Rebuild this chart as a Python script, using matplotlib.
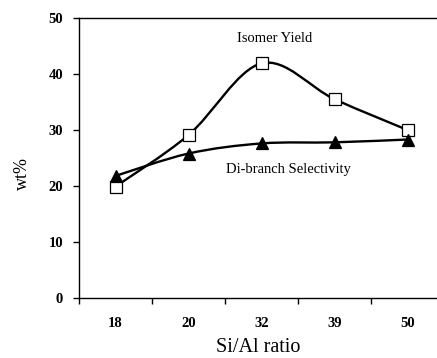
import numpy as np
import matplotlib.pyplot as plt
from matplotlib.path import Path
from matplotlib.patches import PathPatch

ratios = ['18', '20', '32', '39', '50']
isomer_yield = [19.9, 29.1, 41.9, 35.5, 30.0]
dibranch_sel = [21.8, 25.8, 27.6, 27.8, 28.3]

plt.rcParams['font.family'] = ['Liberation Serif', 'DejaVu Serif']


def smooth_path(xs, ys, t=1/6.):
    # excel-like smoothed line: cubic bezier through the points
    pts = np.column_stack([xs, ys]).astype(float)
    n = len(pts)
    verts = [pts[0]]
    codes = [Path.MOVETO]
    for i in range(n - 1):
        p0 = pts[max(i - 1, 0)]
        p1 = pts[i]
        p2 = pts[i + 1]
        p3 = pts[min(i + 2, n - 1)]
        c1 = p1 + (p2 - p0) * t
        c2 = p2 - (p3 - p1) * t
        verts += [c1, c2, p2]
        codes += [Path.CURVE4] * 3
    return Path(verts, codes)


fig = plt.figure(figsize=(4.37, 3.58), dpi=100)
ax = fig.add_axes([79/437, 1 - 298/358, (437 - 79)/437, 280/358])

x = np.arange(len(ratios))
for vals, mk, fc in [(isomer_yield, 's', 'white'), (dibranch_sel, '^', 'black')]:
    ax.add_patch(PathPatch(smooth_path(x, vals), fill=False, lw=1.7, ec='black', zorder=2))
    ax.plot(x, vals, ls='none', marker=mk, ms=9, mfc=fc, mec='black', mew=0.9, zorder=3)

ax.set_xlim(-0.5, 4.404)
ax.set_ylim(0, 50)
ax.set_xticks(x - 0.5, minor=False)
ax.set_xticklabels([])
ax.set_xticks(x, minor=True)
ax.set_xticklabels(ratios, minor=True, fontweight='bold', fontsize=10.5)
ax.tick_params(axis='x', which='minor', length=0, pad=14)
ax.tick_params(axis='x', which='major', length=4.5, width=1, direction='out')
ax.set_yticks([0, 10, 20, 30, 40, 50])
ax.set_yticklabels(['0', '10', '20', '30', '40', '50'], fontweight='bold', fontsize=10.5)
ax.tick_params(axis='y', length=4.5, width=1, direction='out', pad=7)
ax.spines['right'].set_visible(False)
for s in ['left', 'bottom', 'top']:
    ax.spines[s].set_linewidth(1.0)

ax.text(2.185, 46.4, 'Isomer Yield', ha='center', va='center', fontsize=10.5)
ax.text(2.37, 23.0, 'Di-branch Selectivity', ha='center', va='center', fontsize=10.5)

fig.text(258/437, 1/358, 'Si/Al ratio', ha='center', va='bottom', fontsize=14.5)
ax.set_ylabel('wt%', fontsize=13)
ax.yaxis.set_label_coords(-0.135, 0.446)

fig.savefig('out.png', dpi=100)
